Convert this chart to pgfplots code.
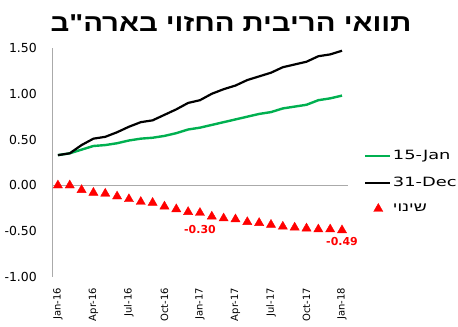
\documentclass[border=0pt]{standalone}
\usepackage{pgfplots}
\usepackage{pgfplotstable}
\pgfplotsset{compat=1.18}
\usepackage{fontspec}
\setmainfont{DejaVu Sans}
\newfontfamily\hebfont[Script=Hebrew]{Liberation Sans}
\TeXXeTstate=1
\definecolor{xlgreen}{RGB}{0,176,80}
\definecolor{axgray}{RGB}{170,170,170}
\pgfplotstableread{
i green chg black
0 0.33 0.00 0.33
1 0.35 0.00 0.35
2 0.39 -0.05 0.44
3 0.43 -0.08 0.51
4 0.44 -0.09 0.53
5 0.46 -0.12 0.58
6 0.49 -0.15 0.64
7 0.51 -0.18 0.69
8 0.52 -0.19 0.71
9 0.54 -0.23 0.77
10 0.57 -0.26 0.83
11 0.61 -0.29 0.90
12 0.63 -0.30 0.93
13 0.66 -0.34 1.00
14 0.69 -0.36 1.05
15 0.72 -0.37 1.09
16 0.75 -0.40 1.15
17 0.78 -0.41 1.19
18 0.80 -0.43 1.23
19 0.84 -0.45 1.29
20 0.86 -0.46 1.32
21 0.88 -0.47 1.35
22 0.93 -0.48 1.41
23 0.95 -0.48 1.43
24 0.98 -0.49 1.47
}\datatable
\begin{document}
\begin{tikzpicture}
\path (0,0) rectangle (458bp,327bp);
\node[inner sep=0pt, xscale=1.2, font=\hebfont\bfseries\fontsize{24.5}{28}\selectfont] at (231bp,304bp) {\beginR תוואי הריבית החזוי בארה"ב\endR};
\begin{axis}[
 at={(52bp,50bp)}, anchor=south west,
 scale only axis, width=296bp, height=229bp,
 xmin=-0.5, xmax=24.5, ymin=-1, ymax=1.5,
 axis x line*=bottom, axis y line*=left,
 x axis line style={draw=none},
 y axis line style={draw=axgray, line width=0.8bp, -},
 major tick length=0pt,
 ytick={-1,-0.5,0,0.5,1,1.5},
 yticklabels={-1.00,-0.50,0.00,0.50,1.00,1.50},
 xtick={0,3,...,24},
 xticklabels={Jan-16,Apr-16,Jul-16,Oct-16,Jan-17,Apr-17,Jul-17,Oct-17,Jan-18},
 tick label style={inner sep=0pt},
 yticklabel style={font=\fontsize{12.5}{14}\selectfont, anchor=east, xshift=-15bp},
 xticklabel style={font=\fontsize{10}{12}\selectfont, yshift=-11bp, rotate=90, anchor=east},
 extra y ticks={0}, extra y tick labels={},
 extra y tick style={grid=major, major grid style={draw=axgray, line width=0.8bp}},
 legend style={at={(1.054,0.415)}, anchor=west, draw=none, fill=none, inner sep=0pt,
   row sep=14bp, nodes={inner sep=1bp, xscale=1.4}, font=\fontsize{12.8}{14}\selectfont},
 legend cell align=left,
 clip=false,
]
\addplot[xlgreen, line width=2.4bp, mark=none,
  legend image code/.code={\draw[xlgreen, line width=2.4bp] (0bp,0bp) -- (25bp,0bp);}]
  table[x=i, y=green] {\datatable};
\addlegendentry{15-Jan}
\addplot[black, line width=2.2bp, mark=none,
  legend image code/.code={\draw[black, line width=2.2bp] (0bp,0bp) -- (25bp,0bp);}]
  table[x=i, y=black] {\datatable};
\addlegendentry{31-Dec}
\addplot[only marks, mark=triangle*, mark size=5.3bp, red, mark options={draw=red, fill=red},
  legend image code/.code={\draw[draw=none] (0bp,0bp) -- (25bp,0bp); \draw[red, fill=red] plot[mark=triangle*, mark size=5.3bp] coordinates {(13bp,0bp)};}]
  table[x=i, y=chg] {\datatable};
\addlegendentry{\hebfont\beginR שינוי\endR}
\addplot[draw=none, mark=none, forget plot, nodes near coords, point meta=explicit symbolic,
  every node near coord/.append style={font=\bfseries\fontsize{11}{12}\selectfont, text=red, anchor=center, yshift=-16.5bp}]
  coordinates {(12,-0.30) [-0.30]};
\addplot[draw=none, mark=none, forget plot, nodes near coords, point meta=explicit symbolic,
  every node near coord/.append style={font=\bfseries\fontsize{11}{12}\selectfont, text=red, anchor=center, yshift=-11bp}]
  coordinates {(24,-0.49) [-0.49]};
\end{axis}
\end{tikzpicture}
\end{document}
